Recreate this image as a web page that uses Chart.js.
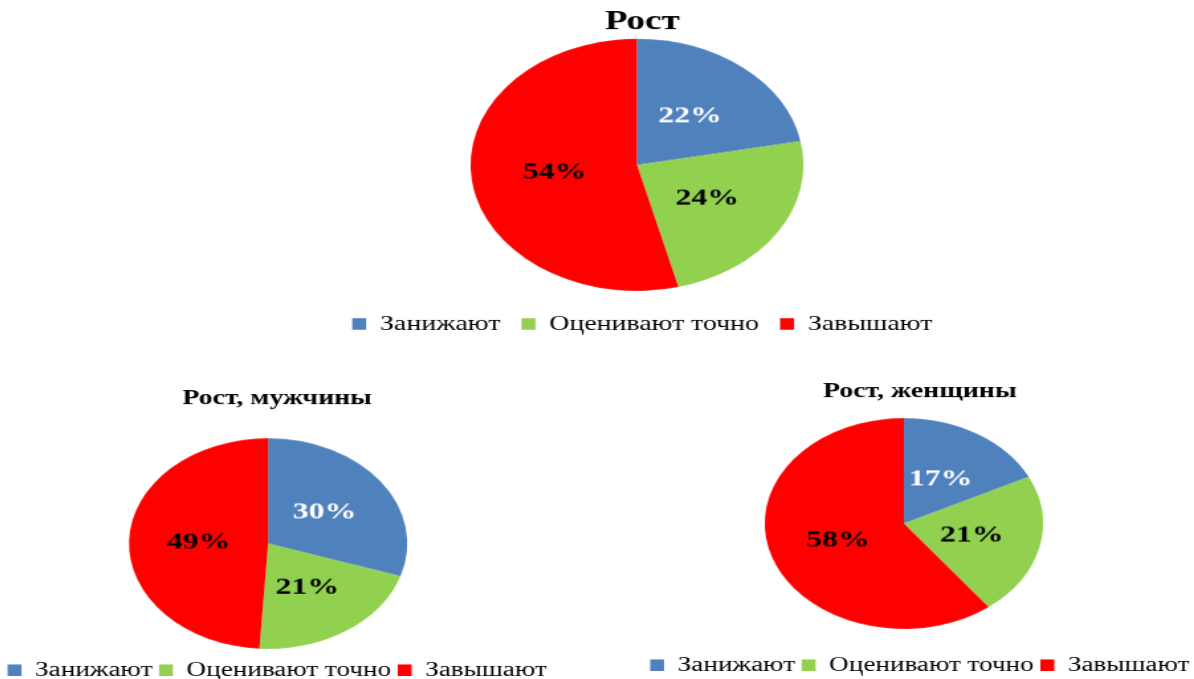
<!DOCTYPE html>
<html>
<head>
<meta charset="utf-8">
<script src="https://cdn.jsdelivr.net/npm/chart.js@4"></script>
<style>
  html, body { margin: 0; padding: 0; background: #fff; width: 1194px; height: 679px; overflow: hidden; }
  .box { position: absolute; transform-origin: 0 0; }
  .box canvas { display: block; }
</style>
</head>
<body>
<div class="box" id="b1"><canvas id="c1"></canvas></div>
<div class="box" id="b2"><canvas id="c2"></canvas></div>
<div class="box" id="b3"><canvas id="c3"></canvas></div>
<script>
// ---- data ----
const categories = ['Занижают', 'Оценивают точно', 'Завышают'];
const totalValues = [22, 24, 54];
const menValues = [30, 21, 49];
const womenValues = [17, 21, 58];
const chartTitles = ['Рост', 'Рост, мужчины', 'Рост, женщины'];
const sliceColors = ['#4F81BD', '#92D050', '#FF0000'];
const labelColors = ['#FFFFFF', '#000000', '#000000'];

const STRETCH = 1.325;
const SERIF = '"Liberation Serif", "Times New Roman", serif';

Chart.defaults.color = '#000';
Chart.defaults.font.family = SERIF;

const pctLabels = {
  id: 'pctLabels',
  afterDatasetsDraw(chart) {
    const ctx = chart.ctx;
    const meta = chart.getDatasetMeta(0);
    const vals = chart.data.datasets[0].data;
    ctx.save();
    ctx.font = 'bold 24px ' + SERIF;
    ctx.textAlign = 'center';
    ctx.textBaseline = 'middle';
    meta.data.forEach((arc, i) => {
      const p = arc.tooltipPosition();
      ctx.fillStyle = labelColors[i];
      ctx.fillText(vals[i] + '%', p.x, p.y);
    });
    ctx.restore();
  }
};

function makePie(boxId, canvasId, values, title, geom) {
  const box = document.getElementById(boxId);
  box.style.left = geom.left + 'px';
  box.style.top = geom.top + 'px';
  box.style.width = geom.w + 'px';
  box.style.height = geom.h + 'px';
  box.style.transform = 'scaleX(' + STRETCH + ')';
  return new Chart(document.getElementById(canvasId), {
    type: 'pie',
    data: {
      labels: categories,
      datasets: [{
        data: values,
        backgroundColor: sliceColors,
        borderWidth: 0
      }]
    },
    options: {
      responsive: true,
      maintainAspectRatio: false,
      animation: false,
      events: [],
      layout: { padding: 0 },
      plugins: {
        title: {
          display: true,
          text: title,
          font: { family: SERIF, size: geom.titleSize, weight: 'bold' },
          color: '#000',
          padding: { top: geom.tpt, bottom: geom.tpb }
        },
        subtitle: {
          display: true,
          text: '',
          position: 'right',
          fullSize: false,
          font: { size: 1 },
          padding: geom.shift
        },
        legend: {
          display: true,
          position: 'bottom',
          title: { display: true, text: '', font: { size: 1 }, padding: { top: geom.lt, bottom: 0 } },
          labels: {
            boxWidth: 10.5,
            boxHeight: 11.5,
            padding: geom.lp,
            color: '#000',
            font: { family: SERIF, size: geom.lf }
          }
        },
        tooltip: { enabled: false }
      }
    },
    plugins: [pctLabels]
  });
}

makePie('b1', 'c1', totalValues, chartTitles[0],
  { left: 321, top: 0, w: 485, h: 343.5, titleSize: 28, tpt: 5.2, tpb: 0, lt: 5.3, lp: 16, lf: 21, shift: 3.4 });
makePie('b2', 'c2', menValues, chartTitles[1],
  { left: -17, top: 380, w: 444, h: 309.5, titleSize: 21, tpt: 6.4, tpb: 26.4, lt: 4.8, lp: 5, lf: 20.5, shift: 6.2 });
makePie('b3', 'c3', womenValues, chartTitles[2],
  { left: 619, top: 370, w: 454, h: 314.5, titleSize: 21, tpt: 8.9, tpb: 13.9, lt: 19.8, lp: 5, lf: 20.5, shift: 11.4 });
</script>
</body>
</html>
